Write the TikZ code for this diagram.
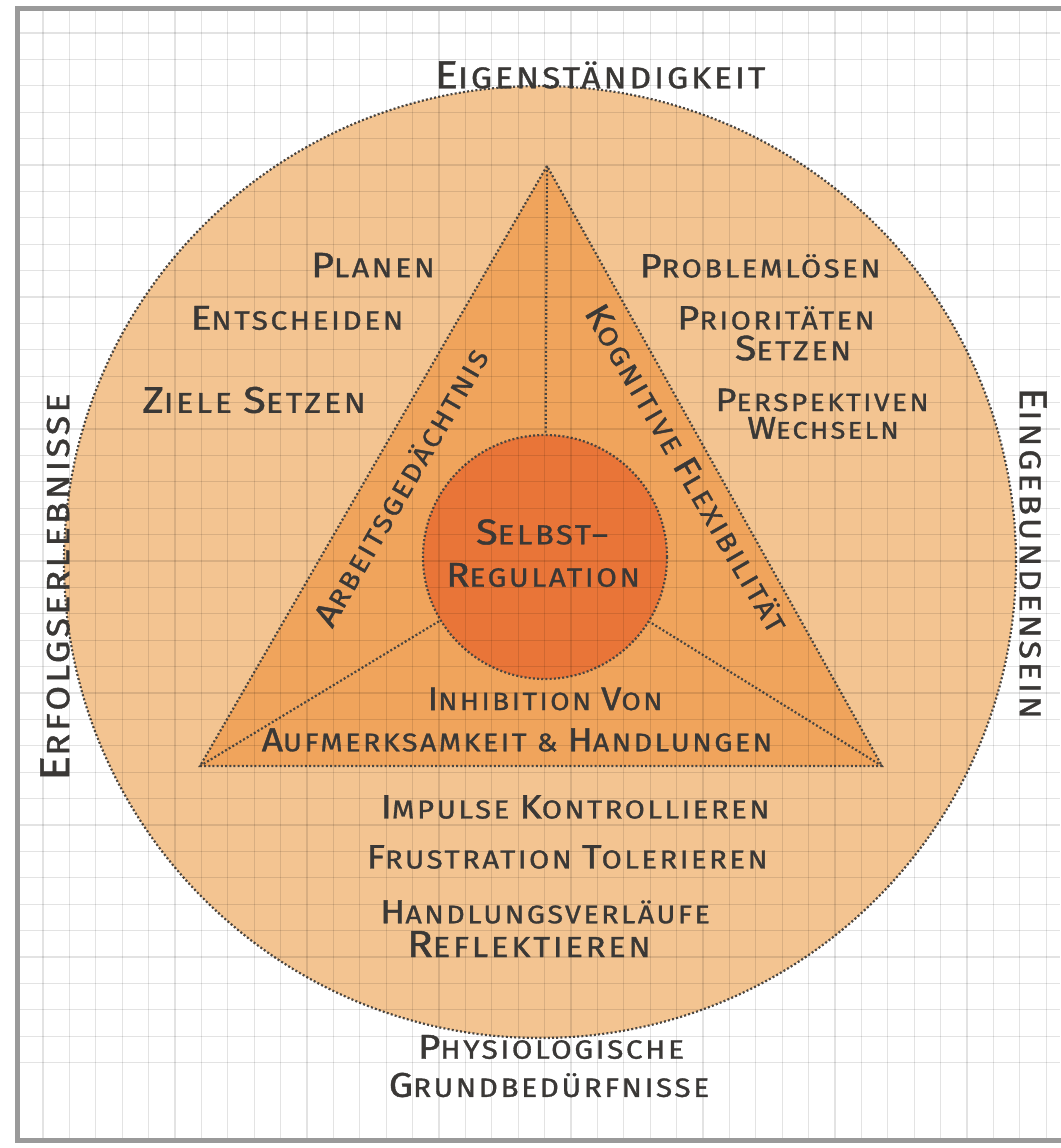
\documentclass[tikz,border=0pt]{standalone}
\usepackage{fontspec}
\setmainfont{Fira Sans}[LetterSpace=10, FakeStretch=1.12, FakeBold=1.2]
\definecolor{peach}{HTML}{F3C491}
\definecolor{tri}{HTML}{F0A45C}
\definecolor{core}{HTML}{E97538}
\definecolor{dotc}{HTML}{4A4540}
\definecolor{txt}{HTML}{3A3836}
\definecolor{framec}{HTML}{9A9A9A}
\makeatletter
\newcommand\B[1]{{\fontsize{\fpeval{1.3*\f@size}}{\f@baselineskip}\selectfont #1}}
\makeatother
\begin{document}
\begin{tikzpicture}[x=1pt,y=-1pt,
  hw/.style={text=txt, font=\fontsize{#1}{#1}\selectfont, inner sep=0pt},
  hw/.default=26,
  dots/.style={draw=dotc, line width=2.2pt, dash pattern=on 2pt off 2.2pt},
  gridline/.style={draw=black, opacity=0.11, line width=1.1pt},
]
\useasboundingbox (0,0) rectangle (1060,1148);
\fill[white] (0,0) rectangle (1060,1148);
% shapes
\node[circle, inner sep=0pt, minimum size=952pt, fill=peach, dots] (outer) at (540,562) {};
\coordinate (A) at (547,166);
\coordinate (BL) at (200,766);
\coordinate (BR) at (882,766);
\fill[tri] (A) -- (BL) -- (BR) -- cycle;
\draw[dots] (A) -- (BL) -- (BR) -- cycle;
\node[circle, inner sep=0pt, minimum size=244pt, fill=core, dots] (sr) at (545,557) {};
\draw[dots] (A) -- (sr);
\draw[dots] (BL) -- (sr);
\draw[dots] (BR) -- (sr);
% grid paper
\begin{scope}
\clip (18,9) rectangle (1060,1140);
\foreach \i in {0,...,40} {
  \draw[gridline] ({16.6+26.4*\i},9) -- ({16.6+26.4*\i},1140);
  \draw[gridline] (18,{6.6+26.4*\i}) -- (1060,{6.6+26.4*\i});
}
\end{scope}
% frame
\draw[framec, line width=5pt] (1062,9) -- (17,9) -- (17,1140) -- (1062,1140);
% texts
\node[hw=30] (eig) at (600,75) {\B{E}IGENSTÄNDIGKEIT};
\node[hw=32, rotate=90] (erf) at (55,587) {\B{E}RFOLGSERLEBNISSE};
\node[hw=30, rotate=-90] (ein) at (1033,553) {\B{E}INGEBUNDENSEIN};
\node[hw=26.5] (phy) at (551,1047) {\B{P}HYSIOLOGISCHE};
\node[hw=26.5] (gru) at (549,1085) {\B{G}RUNDBEDÜRFNISSE};
\node[hw=27] (pla) at (373,265) {\B{P}LANEN};
\node[hw=26.5] (ent) at (297,318) {\B{E}NTSCHEIDEN};
\node[hw=28.5] (zie) at (254,400) {\B{Z}IELE \B{S}ETZEN};
\node[hw=26] (pro) at (760,266) {\B{P}ROBLEMLÖSEN};
\node[hw=26] (pri) at (776,318) {\B{P}RIORITÄTEN};
\node[hw=27] (pri2) at (793,348) {\B{S}ETZEN};
\node[hw=25] (per) at (822,400) {\B{P}ERSPEKTIVEN};
\node[hw=24] (per2) at (823,428) {\B{W}ECHSELN};
\node[hw=26, rotate=60] (arb) at (401,487) {\B{A}RBEITSGEDÄCHTNIS};
\node[hw=26.5, rotate=-60] (kog) at (687,468) {\B{K}OGNITIVE \B{F}LEXIBILITÄT};
\node[hw=27.5] (sel) at (542,532) {\B{S}ELBST–};
\node[hw=26.5] (sel2) at (543,575) {\B{R}EGULATION};
\node[hw=25] (inh) at (545,699) {\B{I}NHIBITION \B{V}ON};
\node[hw=25.5] (auf) at (517,740) {\B{A}UFMERKSAMKEIT \& \B{H}ANDLUNGEN};
\node[hw=26] (imp) at (575,807) {\B{I}MPULSE \B{K}ONTROLLIEREN};
\node[hw=26] (fru) at (567,857) {\B{F}RUSTRATION \B{T}OLERIEREN};
\node[hw=25.5] (han) at (545,912) {\B{H}ANDLUNGSVERLÄUFE};
\node[hw=29] (han2) at (529,944) {\B{R}EFLEKTIEREN};
\end{tikzpicture}
\end{document}
